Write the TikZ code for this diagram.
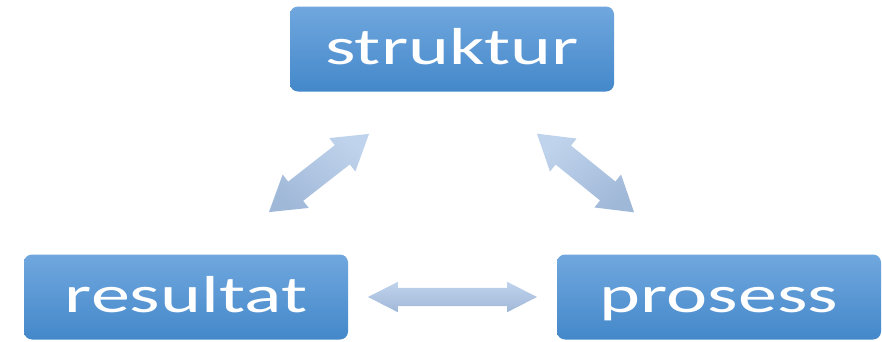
\documentclass[tikz,border=0pt]{standalone}
\usepackage{fontspec}
\newfontfamily\boxfont[FakeStretch=1.5]{Carlito}
\usetikzlibrary{shapes.arrows,calc}
\definecolor{boxtop}{RGB}{112,167,222}
\definecolor{boxbottom}{RGB}{68,136,202}
\definecolor{arrtop}{RGB}{192,211,236}
\definecolor{arrbottom}{RGB}{160,184,216}

\begin{document}
\begin{tikzpicture}[x=1pt, y=-1pt,
  stage/.style={rectangle, rounded corners=8pt, top color=boxtop, bottom color=boxbottom, minimum width=324pt, minimum height=85pt, inner sep=0pt, text height=30pt, text depth=0pt, text=white, font=\boxfont\fontsize{52}{56}\selectfont},
  link/.style={double arrow, double arrow head extend=9pt, double arrow tip angle=64, inner xsep=0pt, inner ysep=12pt, shading=axis, top color=arrtop, bottom color=arrbottom}]
\useasboundingbox (0,0) rectangle (882,341);
\node[stage] (struktur) at (452,49) {struktur};
\node[stage] (resultat) at (186,297) {resultat};
\node[stage] (prosess) at (719,297) {prosess};
\node[link, rotate=38, shading angle=-38, minimum height=127pt] (leftlink) at ($(resultat.north east)!0.5!(struktur.south west)$) {};
\node[link, rotate=-39, shading angle=39, minimum height=125pt] (rightlink) at ($(struktur.south east)!0.5!(prosess.north west)$) {};
\node[link, inner ysep=9pt, double arrow head extend=6pt, double arrow tip angle=54, minimum height=169pt] (bottomlink) at ($(resultat.east)!0.5!(prosess.west)$) {};
\end{tikzpicture}
\end{document}
